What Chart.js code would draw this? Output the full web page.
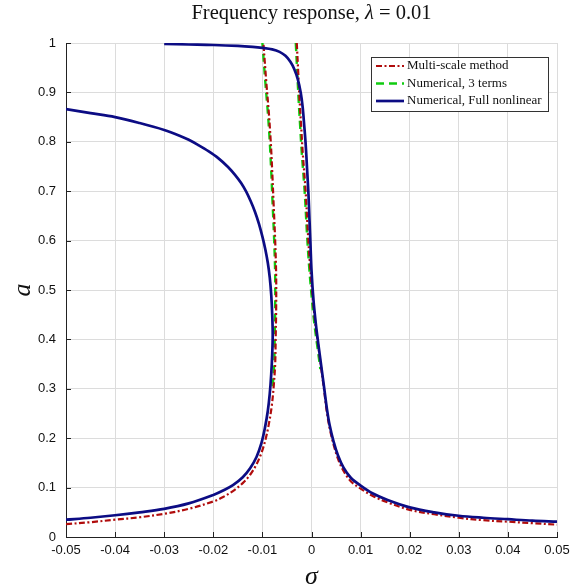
<!DOCTYPE html>
<html><head><meta charset="utf-8">
<script src="https://cdn.jsdelivr.net/npm/chart.js@4/dist/chart.umd.min.js"></script>
<style>html,body{margin:0;padding:0;background:#fff;}</style>
</head><body>
<canvas id="c" width="583" height="588"></canvas>
<script>
// ---- text ----
const titleParts = ['Frequency response, ', 'λ', ' = 0.01'];
const xAxisTitle = 'σ';
const yAxisTitle = 'a';
const seriesNames = ['Multi-scale method', 'Numerical, 3 terms', 'Numerical, Full nonlinear'];

// ---- ticks ----
const xTicks = [-0.05, -0.04, -0.03, -0.02, -0.01, 0, 0.01, 0.02, 0.03, 0.04, 0.05];
const xTickLabels = ['-0.05', '-0.04', '-0.03', '-0.02', '-0.01', '0', '0.01', '0.02', '0.03', '0.04', '0.05'];
const yTicks = [0, 0.1, 0.2, 0.3, 0.4, 0.5, 0.6, 0.7, 0.8, 0.9, 1];
const yTickLabels = ['0', '0.1', '0.2', '0.3', '0.4', '0.5', '0.6', '0.7', '0.8', '0.9', '1'];

// ---- Numerical, Full nonlinear : branch 1 (lower-left tail, turning point, upper-left) ----
const blue1Sigma = [-0.050, -0.045, -0.040, -0.035, -0.030, -0.025, -0.020, -0.018, -0.016, -0.014, -0.0125, -0.0112,
  -0.0102, -0.0095, -0.0089, -0.0085, -0.0082, -0.0080, -0.0079, -0.0080, -0.0082, -0.0085, -0.0089, -0.0094,
  -0.0100, -0.0107, -0.0115, -0.0124, -0.0133, -0.0143, -0.0155, -0.0170, -0.0190, -0.0210, -0.0230, -0.0250,
  -0.0270, -0.0300, -0.0350, -0.0400, -0.0450, -0.0500];
const blue1A = [0.035, 0.039, 0.044, 0.050, 0.057, 0.068, 0.085, 0.094, 0.105, 0.121, 0.139, 0.162,
  0.190, 0.220, 0.255, 0.290, 0.330, 0.370, 0.410, 0.450, 0.490, 0.525, 0.555, 0.582,
  0.608, 0.634, 0.658, 0.680, 0.699, 0.716, 0.732, 0.749, 0.767, 0.781, 0.793, 0.804,
  0.813, 0.824, 0.838, 0.850, 0.858, 0.866];

// ---- Numerical, Full nonlinear : branch 2 (upper plateau, right tail) ----
const blue2Sigma = [-0.030, -0.025, -0.020, -0.015, -0.012, -0.010, -0.008, -0.0065, -0.0053, -0.0043, -0.0035,
  -0.0028, -0.0022, -0.0018, -0.0015, -0.0012, -0.0009, -0.0006, -0.0004, -0.0002, 0.0000, 0.0004, 0.0009,
  0.0014, 0.0020, 0.0026, 0.0031, 0.0037, 0.0045, 0.0054, 0.0065, 0.0080, 0.0100, 0.0125, 0.0155, 0.0200,
  0.0250, 0.0300, 0.0350, 0.0400, 0.0450, 0.0500];
const blue2A = [0.998, 0.997, 0.996, 0.994, 0.992, 0.990, 0.987, 0.982, 0.974, 0.962, 0.947,
  0.927, 0.900, 0.870, 0.835, 0.797, 0.745, 0.690, 0.640, 0.590, 0.540, 0.480, 0.430,
  0.390, 0.345, 0.300, 0.262, 0.226, 0.193, 0.165, 0.141, 0.120, 0.104, 0.088, 0.075, 0.060,
  0.050, 0.043, 0.039, 0.036, 0.033, 0.031];

// ---- Multi-scale method : left branch ----
const redLeftSigma = [-0.050, -0.045, -0.040, -0.035, -0.030, -0.025, -0.020, -0.018, -0.016, -0.014, -0.0125,
  -0.0112, -0.0102, -0.0094, -0.0087, -0.0081, -0.0077, -0.0074, -0.0073, -0.0072, -0.0072, -0.0074, -0.0077,
  -0.0080, -0.0083, -0.0087, -0.0092, -0.0098];
const redLeftA = [0.026, 0.030, 0.035, 0.040, 0.047, 0.057, 0.072, 0.081, 0.093, 0.109, 0.126,
  0.147, 0.170, 0.196, 0.228, 0.265, 0.305, 0.350, 0.400, 0.460, 0.530, 0.600, 0.670,
  0.740, 0.800, 0.860, 0.920, 1.000];

// ---- Multi-scale method : right branch ----
const redRightSigma = [-0.0030, -0.0027, -0.0024, -0.0021, -0.0018, -0.0012, -0.0007, -0.0003, 0.0002, 0.0008,
  0.0014, 0.0020, 0.0026, 0.0031, 0.0037, 0.0045, 0.0054, 0.0065, 0.0080, 0.0100, 0.0125, 0.0155, 0.0200,
  0.0250, 0.0300, 0.0350, 0.0400, 0.0450, 0.0500];
const redRightA = [1.000, 0.940, 0.880, 0.830, 0.780, 0.700, 0.610, 0.550, 0.490, 0.430,
  0.385, 0.340, 0.295, 0.255, 0.220, 0.187, 0.158, 0.134, 0.113, 0.098, 0.083, 0.070, 0.055,
  0.046, 0.039, 0.034, 0.031, 0.028, 0.025];

// ---- Numerical, 3 terms ----
const greenLeftSigma = [-0.0079, -0.0076, -0.0075, -0.0074, -0.0074, -0.0076, -0.0079, -0.0082, -0.0085, -0.0089, -0.0094, -0.0100];
const greenLeftA = [0.305, 0.350, 0.400, 0.460, 0.530, 0.600, 0.670, 0.740, 0.800, 0.860, 0.920, 1.000];
const greenRightSigma = [-0.0032, -0.0029, -0.0026, -0.0023, -0.0020, -0.0014, -0.0009, -0.0005, 0.0000, 0.0006, 0.0012, 0.0018];
const greenRightA = [1.000, 0.940, 0.880, 0.830, 0.780, 0.700, 0.610, 0.550, 0.490, 0.430, 0.385, 0.340];

// ---- styles ----
const RED = '#b00c0c', GREEN = '#10cc10', BLUE = '#0c0c84';
const RED_DASH = [6, 2.5, 2, 2.5], GREEN_DASH = [8, 5];

const pts = (xs, ys) => xs.map((x, i) => ({x: x, y: ys[i]}));
function ds(label, xs, ys, color, dash, width, order) {
  return {label: label, data: pts(xs, ys), showLine: true, borderColor: color, backgroundColor: color,
    borderWidth: width, borderDash: dash, pointRadius: 0, pointHoverRadius: 0, tension: 0.35, fill: false,
    borderCapStyle: 'butt', borderJoinStyle: 'round', order: order};
}
const datasets = [
  ds(seriesNames[2], blue1Sigma, blue1A, BLUE, [], 2.7, 1),
  ds(seriesNames[2], blue2Sigma, blue2A, BLUE, [], 2.7, 1),
  ds(seriesNames[0], redLeftSigma, redLeftA, RED, RED_DASH, 2.2, 2),
  ds(seriesNames[0], redRightSigma, redRightA, RED, RED_DASH, 2.2, 2),
  ds(seriesNames[1], greenLeftSigma, greenLeftA, GREEN, GREEN_DASH, 2.4, 3),
  ds(seriesNames[1], greenRightSigma, greenRightA, GREEN, GREEN_DASH, 2.4, 3)
];

const SERIF = '"Liberation Serif", "DejaVu Serif", serif';
const SANS = '"Liberation Sans", Arial, sans-serif';

const decorPlugin = {
  id: 'decor',
  afterDraw(chart) {
    const ctx = chart.ctx, ca = chart.chartArea;
    const xs = chart.scales.x, ys = chart.scales.y;
    ctx.save();
    // inward tick marks
    ctx.strokeStyle = '#222'; ctx.lineWidth = 1;
    ctx.beginPath();
    xTicks.forEach(v => { const px = Math.round(xs.getPixelForValue(v)) + 0.5; ctx.moveTo(px, ca.bottom); ctx.lineTo(px, ca.bottom - 5); });
    yTicks.forEach(v => { const py = Math.round(ys.getPixelForValue(v)) + 0.5; ctx.moveTo(ca.left, py); ctx.lineTo(ca.left + 5, py); });
    ctx.stroke();

    // title with italic lambda
    const fonts = ['20.5px ' + SERIF, 'italic 20.5px ' + SERIF, '20.5px ' + SERIF];
    let total = 0; const widths = [];
    titleParts.forEach((t, i) => { ctx.font = fonts[i]; const w = ctx.measureText(t).width; widths.push(w); total += w; });
    let x = (ca.left + ca.right) / 2 - total / 2;
    ctx.fillStyle = '#111'; ctx.textBaseline = 'middle'; ctx.textAlign = 'left';
    titleParts.forEach((t, i) => { ctx.font = fonts[i]; ctx.fillText(t, x, 14); x += widths[i]; });

    // legend box
    const bx = 371.5, by = 57.5, bw = 177, bh = 54;
    ctx.fillStyle = '#fff'; ctx.fillRect(bx, by, bw, bh);
    ctx.strokeStyle = '#333'; ctx.lineWidth = 1; ctx.setLineDash([]);
    ctx.strokeRect(bx, by, bw, bh);
    const entries = [[RED, RED_DASH, 2.2], [GREEN, GREEN_DASH, 2.4], [BLUE, [], 2.7]];
    const rows = [66, 83.5, 101];
    ctx.font = '13px ' + SERIF; ctx.textBaseline = 'middle';
    entries.forEach((e, i) => {
      ctx.strokeStyle = e[0]; ctx.lineWidth = e[2]; ctx.setLineDash(e[1]);
      ctx.beginPath(); ctx.moveTo(376, rows[i]); ctx.lineTo(404, rows[i]); ctx.stroke();
      ctx.setLineDash([]);
      ctx.fillStyle = '#111'; ctx.fillText(seriesNames[i], 407, rows[i]);
    });
    ctx.restore();
  }
};

new Chart(document.getElementById('c'), {
  type: 'scatter',
  data: {datasets: datasets},
  plugins: [decorPlugin],
  options: {
    responsive: false, animation: false, devicePixelRatio: 1,
    layout: {padding: {top: 43, right: 26, left: 0, bottom: 0}},
    plugins: {legend: {display: false}, title: {display: false}, tooltip: {enabled: false}},
    scales: {
      x: {
        type: 'linear', min: -0.05, max: 0.05,
        afterBuildTicks: s => { s.ticks = xTicks.map(v => ({value: v})); },
        afterFit: s => { s.height = 51; },
        ticks: {callback: (v, i) => xTickLabels[i], font: {family: SANS, size: 13}, color: '#111', padding: 6, maxRotation: 0, autoSkip: false},
        grid: {color: '#dcdcdc', lineWidth: 1, drawTicks: false},
        border: {color: '#222', width: 1},
        title: {display: true, text: xAxisTitle, font: {family: SERIF, size: 26, style: 'italic'}, color: '#111', padding: {top: 0, bottom: -5}}
      },
      y: {
        type: 'linear', min: 0, max: 1,
        afterBuildTicks: s => { s.ticks = yTicks.map(v => ({value: v})); },
        afterFit: s => { s.width = 66; },
        ticks: {callback: (v, i) => yTickLabels[i], font: {family: SANS, size: 13}, color: '#111', padding: 10, autoSkip: false},
        grid: {color: '#dcdcdc', lineWidth: 1, drawTicks: false},
        border: {color: '#222', width: 1},
        title: {display: true, text: yAxisTitle, font: {family: SERIF, size: 26, style: 'italic'}, color: '#111', padding: {top: 8, bottom: 0}}
      }
    }
  }
});
</script>
</body></html>
